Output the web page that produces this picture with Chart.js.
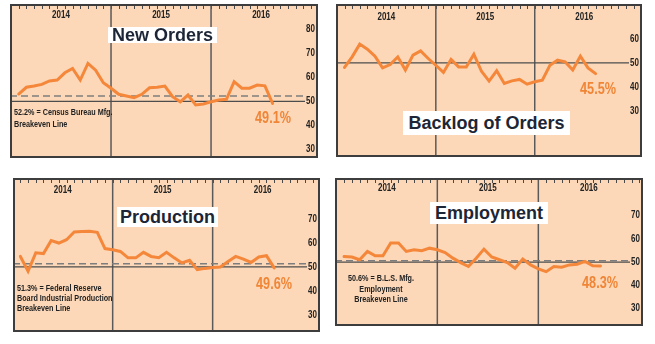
<!DOCTYPE html>
<html>
<head>
<meta charset="utf-8">
<script src="https://cdn.jsdelivr.net/npm/chart.js@4.4.1/dist/chart.umd.min.js"></script>
<style>
  body { margin: 0; background: #fff; width: 655px; height: 344px; position: relative; overflow: hidden; }
  canvas { position: absolute; display: block; }
  .title { position: absolute; background: #fff; color: #1d2636; font: bold 18px "Liberation Sans", Arial, sans-serif; text-align: center; white-space: nowrap; }
  .note { position: absolute; color: #222; font: bold 9.5px "Liberation Sans", Arial, sans-serif; line-height: 11.5px; white-space: nowrap; transform: scaleX(0.76); transform-origin: left top; }
  .last { position: absolute; color: #f08536; font: bold 16.5px "Liberation Sans", Arial, sans-serif; line-height: 16px; white-space: nowrap; transform: scaleX(0.77); transform-origin: left top; }
</style>
</head>
<body>
<canvas id="orders" width="308" height="154" style="left:10px;top:4px"></canvas>
<canvas id="backlog" width="306" height="153" style="left:336px;top:4px"></canvas>
<canvas id="production" width="307" height="154" style="left:13px;top:178px"></canvas>
<canvas id="employment" width="308" height="148" style="left:335px;top:178px"></canvas>

<div class="title" style="left:108px;top:27px;width:109px;height:16px;line-height:16px">New Orders</div>
<div class="title" style="left:403px;top:111px;width:167px;height:24px;line-height:24px">Backlog of Orders</div>
<div class="title" style="left:117px;top:207px;width:101px;height:20px;line-height:20px">Production</div>
<div class="title" style="left:430px;top:202px;width:118px;height:22px;line-height:22px">Employment</div>

<div class="note" style="left:14px;top:106px;line-height:12px">52.2% = Census Bureau Mfg.<br>Breakeven Line</div>
<div class="note" style="left:17px;top:283px;line-height:10.2px">51.3% = Federal Reserve<br>Board Industrial Production<br>Breakeven Line</div>
<div class="note" style="left:316px;width:130px;top:273px;text-align:center;line-height:10.5px;transform-origin:center top">50.6% = B.L.S. Mfg.<br>Employment<br>Breakeven Line</div>

<div class="last" style="left:255px;top:109px">49.1%</div>
<div class="last" style="left:580px;top:80px">45.5%</div>
<div class="last" style="left:256px;top:275px">49.6%</div>
<div class="last" style="left:582px;top:274px">48.3%</div>

<script>
// =======================
// DATA
// =======================
const periods = [0, 1, 2, 3, 4, 5, 6, 7, 8, 9, 10, 11, 12, 13, 14, 15, 16,
                 17, 18, 19, 20, 21, 22, 23, 24, 25, 26, 27, 28, 29, 30, 31, 32, 33];
const years = ["2014", "2015", "2016"];
const yearCenters = [5.5, 18.5, 31.5];
const yearBreaks = [12, 25];
const topTicks = [0, 1, 2, 3, 4, 5, 6, 7, 8, 9, 10, 11, 12, 13, 14, 15, 16, 17, 18, 19,
                  20, 21, 22, 23, 24, 25, 26, 27, 28, 29, 30, 31, 32, 33, 34, 35, 36, 37, 38];

const newOrders = [53.0, 55.8, 56.3, 57.0, 58.4, 58.8, 61.8, 63.6, 58.8, 65.7, 62.9, 57.7,
                   55.4, 52.9, 52.2, 51.5, 52.9, 55.6, 55.8, 56.3, 51.9, 49.8, 52.6, 48.5,
                   48.9, 49.8, 50.5, 50.8, 58.1, 55.4, 55.4, 56.7, 56.4, 49.1];
const backlog = [48.1, 52.5, 57.8, 55.7, 52.8, 47.9, 49.3, 52.5, 47.0, 53.2, 55.0, 51.8,
                 49.0, 46.0, 51.4, 48.3, 48.3, 53.6, 46.5, 42.4, 46.7, 41.4, 42.5, 43.1,
                 41.1, 42.1, 42.8, 49.0, 51.1, 50.4, 47.0, 52.8, 47.9, 45.5];
const production = [54.4, 48.2, 55.9, 55.6, 61.0, 60.0, 61.4, 64.6, 64.8, 64.9, 64.5, 57.7,
                    57.2, 56.5, 53.8, 53.8, 56.1, 54.4, 53.9, 56.1, 53.8, 51.7, 52.8, 48.9,
                    49.4, 49.8, 50.0, 52.3, 54.4, 53.3, 51.9, 54.2, 54.7, 49.6];
const employment = [52.4, 52.2, 51.0, 54.6, 52.7, 52.7, 58.2, 58.2, 54.6, 55.3, 54.9, 56.0,
                    55.3, 54.1, 51.7, 49.8, 48.1, 51.7, 55.6, 52.2, 51.0, 49.8, 47.4, 51.3,
                    48.8, 47.1, 45.9, 48.1, 47.8, 48.8, 49.1, 50.3, 48.4, 48.3];

const ordersTicks = [30, 40, 50, 60, 70, 80];
const backlogTicks = [30, 40, 50, 60];
const productionTicks = [30, 40, 50, 60, 70];
const employmentTicks = [30, 40, 50, 60, 70];

const ordersBreakeven = 52.2;
const productionBreakeven = 51.3;
const employmentBreakeven = 50.6;
const baseline = 50;

// narrow bold lettering for the axis text (squeezed Liberation Sans)
function narrowText(ctx, text, px, py, align) {
    ctx.save();
    ctx.translate(px, py);
    ctx.scale(0.8, 1);
    ctx.textAlign = align;
    ctx.fillText(text, 0, 0);
    ctx.restore();
}

// =======================
// PANEL DECORATION
// =======================
const panelDecor = {
    id: 'panelDecor',
    beforeDatasetsDraw(chart, args, opts) {
        const { ctx, chartArea: a, scales: { x, y } } = chart;
        ctx.save();

        // peach background
        ctx.fillStyle = '#fcd8b9';
        ctx.fillRect(a.left, a.top, a.right - a.left, a.bottom - a.top);

        // little month ticks hanging from the top edge
        ctx.strokeStyle = '#4a4a4a';
        ctx.lineWidth = 1;
        topTicks.forEach(t => {
            const px = Math.round(x.getPixelForValue(t)) + 0.5;
            ctx.beginPath();
            ctx.moveTo(px, a.top);
            ctx.lineTo(px, a.top + 5);
            ctx.stroke();
        });

        // year separators
        ctx.strokeStyle = '#5a5a5a';
        ctx.lineWidth = 1.5;
        yearBreaks.forEach(b => {
            const px = x.getPixelForValue(b);
            ctx.beginPath();
            ctx.moveTo(px, a.top);
            ctx.lineTo(px, a.bottom);
            ctx.stroke();
        });

        const lineEnd = a.right - 13;

        // 50% line
        const y50 = y.getPixelForValue(baseline);
        ctx.strokeStyle = '#4d4d4d';
        ctx.lineWidth = 1.3;
        ctx.beginPath();
        ctx.moveTo(a.left, y50);
        ctx.lineTo(lineEnd, y50);
        ctx.stroke();

        // breakeven line
        if (opts.breakeven) {
            const yb = y.getPixelForValue(opts.breakeven);
            ctx.strokeStyle = '#7d7d7d';
            ctx.lineWidth = 1.5;
            ctx.setLineDash([7, 4]);
            ctx.beginPath();
            ctx.moveTo(a.left, yb);
            ctx.lineTo(lineEnd, yb);
            ctx.stroke();
            ctx.setLineDash([]);
        }

        ctx.fillStyle = '#222';
        ctx.font = 'bold 10px "Liberation Sans", Arial, sans-serif';
        ctx.textBaseline = 'middle';

        // year labels
        years.forEach((yr, i) => {
            narrowText(ctx, yr, x.getPixelForValue(yearCenters[i]), a.top + opts.yearTop, 'center');
        });

        // value labels on the right
        opts.ticks.forEach(v => {
            narrowText(ctx, String(v), a.right - 3, y.getPixelForValue(v), 'right');
        });

        ctx.restore();
    },
    afterDraw(chart) {
        const { ctx, width, height } = chart;
        ctx.save();
        ctx.strokeStyle = '#3d3d3d';
        ctx.lineWidth = 2;
        ctx.strokeRect(1, 1, width - 2, height - 2);
        ctx.restore();
    }
};

function makePanel(id, values, ticks, yMin, yMax, xMin, xMax, breakeven, yearTop) {
    const ctx = document.getElementById(id).getContext('2d');
    return new Chart(ctx, {
        type: 'line',
        data: {
            datasets: [{
                data: values.map((v, i) => ({ x: periods[i], y: v })),
                borderColor: '#f5873a',
                borderWidth: 3,
                borderCapStyle: 'round',
                pointRadius: 0,
                tension: 0,
                fill: false
            }]
        },
        options: {
            responsive: false,
            devicePixelRatio: 1,
            animation: false,
            events: [],
            layout: { padding: 0 },
            scales: {
                x: { type: 'linear', min: xMin, max: xMax, display: false },
                y: { type: 'linear', min: yMin, max: yMax, display: false }
            },
            plugins: {
                legend: { display: false },
                tooltip: { enabled: false },
                panelDecor: { ticks, breakeven, yearTop }
            }
        },
        plugins: [panelDecor]
    });
}

makePanel('orders', newOrders, ordersTicks, 26.5, 90.3, -1.13, 38.9, ordersBreakeven, 11);
makePanel('backlog', backlog, backlogTicks, 10.8, 74.5, -1.12, 39.1, null, 13);
makePanel('production', production, productionTicks, 22.8, 87.2, -0.96, 38.96, productionBreakeven, 12.5);
makePanel('employment', employment, employmentTicks, 22.5, 86.2, -1.17, 38.47, employmentBreakeven, 10);
</script>
</body>
</html>
